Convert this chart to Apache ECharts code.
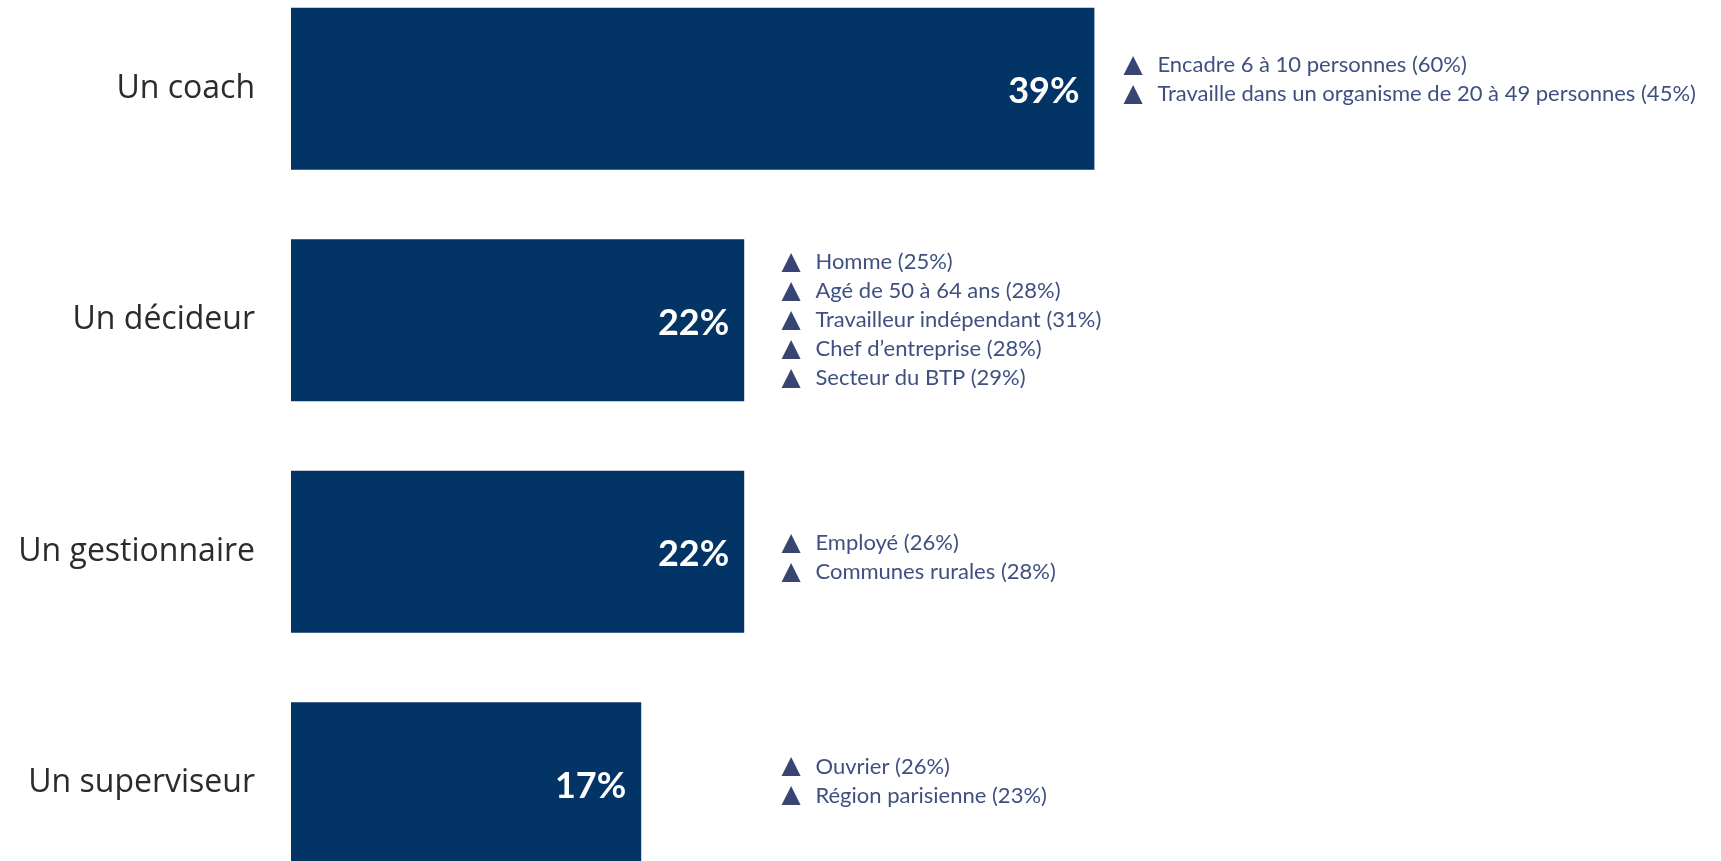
<!DOCTYPE html>
<html>
<head>
<meta charset="utf-8">
<script src="https://cdn.jsdelivr.net/npm/echarts@6/dist/echarts.min.js"></script>
<style>
  html, body { margin: 0; padding: 0; background: #fff; }
  #chart { width: 1721px; height: 861px; }
</style>
</head>
<body>
<div id="chart"></div>
<script>
const categories = ['Un coach', 'Un décideur', 'Un gestionnaire', 'Un superviseur'];
const values = [39, 22, 22, 17];
const notesCoach = ['Encadre 6 à 10 personnes (60%)', 'Travaille dans un organisme de 20 à 49 personnes (45%)'];
const notesDecideur = ['Homme (25%)', 'Agé de 50 à 64 ans (28%)', 'Travailleur indépendant (31%)', 'Chef d\u2019entreprise (28%)', 'Secteur du BTP (29%)'];
const notesGestionnaire = ['Employé (26%)', 'Communes rurales (28%)'];
const notesSuperviseur = ['Ouvrier (26%)', 'Région parisienne (23%)'];
const notes = [notesCoach, notesDecideur, notesGestionnaire, notesSuperviseur];

// notes for the short bars line up in one column
const noteFloor = 22.4;

const myChart = echarts.init(document.getElementById('chart'));

// small vertical nudges so the note blocks sit like in the original
const noteShift = [-9, 0, 6, -2];

const option = {
    animation: false,
    grid: {
        left: 291,
        right: 194,
        top: -27,
        bottom: -38,
        containLabel: false,
        outerBoundsMode: 'none'
    },
    xAxis: {
        type: 'value',
        min: 0,
        max: 60,
        show: false
    },
    yAxis: {
        type: 'category',
        data: categories,
        inverse: true,
        axisLine: { show: false },
        axisTick: { show: false },
        axisLabel: {
            margin: 36,
            fontFamily: 'Open Sans',
            fontSize: 32,
            color: '#2b2b2b'
        }
    },
    series: [
        {
            type: 'bar',
            data: values,
            barCategoryGap: '30%',
            itemStyle: { color: '#023466' },
            label: {
                show: true,
                position: 'insideRight',
                distance: 15,
                offset: [0, 3],
                formatter: '{c}%',
                color: '#fff',
                fontFamily: 'Lato',
                fontWeight: 'bold',
                fontSize: 36
            }
        },
        {
            type: 'scatter',
            symbolSize: 0,
            silent: true,
            data: values.map((v, i) => ({
                value: [Math.max(v, noteFloor), i],
                label: { offset: [0, noteShift[i]] }
            })),
            label: {
                show: true,
                position: 'right',
                distance: 29,
                formatter: p => notes[p.dataIndex].map(t => '{tri|\u25B2}{txt|' + t + '}').join('\n'),
                rich: {
                    tri: { width: 34, fontSize: 25, lineHeight: 29, color: '#061650', fontFamily: 'DejaVu Sans' },
                    txt: { fontSize: 22, lineHeight: 29, color: '#0f2460', fontFamily: 'Lato' }
                }
            }
        }
    ]
};
myChart.setOption(option);
</script>
</body>
</html>
